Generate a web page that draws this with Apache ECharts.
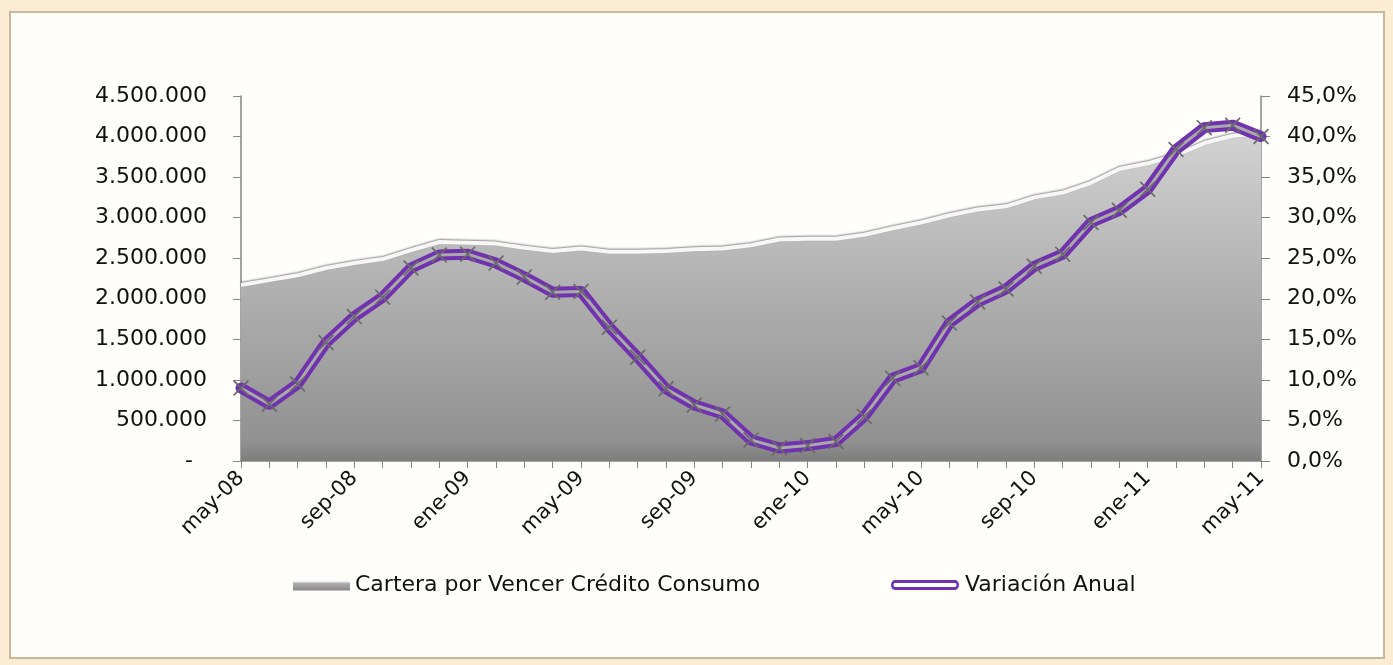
<!DOCTYPE html>
<html>
<head>
<meta charset="utf-8">
<script src="https://cdn.jsdelivr.net/npm/echarts@6/dist/echarts.min.js"></script>
<style>
  html, body { margin: 0; padding: 0; background: #fcecd3; }
  .panel { position: absolute; left: 9px; top: 11px; width: 1376px; height: 648px; background: #fffefb; border: 2px solid #c9b99c; box-sizing: border-box; }
  #chart { position: absolute; left: 0; top: 0; width: 1393px; height: 665px; }
</style>
</head>
<body>
<div class="panel"></div>
<div id="chart"></div>
<script>
const months = [
  'may-08', 'jun-08', 'jul-08', 'ago-08', 'sep-08', 'oct-08', 'nov-08', 'dic-08',
  'ene-09', 'feb-09', 'mar-09', 'abr-09', 'may-09', 'jun-09', 'jul-09', 'ago-09',
  'sep-09', 'oct-09', 'nov-09', 'dic-09', 'ene-10', 'feb-10', 'mar-10', 'abr-10',
  'may-10', 'jun-10', 'jul-10', 'ago-10', 'sep-10', 'oct-10', 'nov-10', 'dic-10',
  'ene-11', 'feb-11', 'mar-11', 'abr-11', 'may-11',
]

// cartera por vencer, pesos
const cartera = [
  2170000, 2230000, 2290000, 2380000, 2440000, 2490000, 2600000, 2700000,
  2690000, 2680000, 2630000, 2590000, 2620000, 2580000, 2580000, 2590000,
  2610000, 2620000, 2660000, 2730000, 2740000, 2740000, 2790000, 2870000,
  2940000, 3030000, 3100000, 3140000, 3250000, 3310000, 3430000, 3600000,
  3670000, 3770000, 3920000, 4010000, 4040000,
]

// variación anual, %
const variacion = [
  9.0, 7.0, 9.5, 14.6, 17.8, 20.2, 23.8, 25.4,
  25.5, 24.4, 22.7, 20.8, 20.9, 16.5, 12.8, 8.9,
  6.9, 5.8, 2.6, 1.6, 1.9, 2.4, 5.5, 10.2,
  11.5, 17.0, 19.6, 21.2, 24.0, 25.5, 29.4, 30.9,
  33.5, 38.4, 41.1, 41.4, 40.0,
]

const serieCartera = 'Cartera por Vencer Crédito Consumo'
const serieVariacion = 'Variación Anual'

const font = 'DejaVu Sans'
const purple = '#7032ae'
const crossIcon = 'path://M0,1.5L1.5,0L10,8.5L18.5,0L20,1.5L11.5,10L20,18.5L18.5,20L10,11.5L1.5,20L0,18.5L8.5,10Z'
const ringIcon = 'path://M4,0H64A4,5 0 0 1 64,10H4A4,5 0 0 1 4,0Z M4,3A1.5,2 0 0 0 4,7H64A1.5,2 0 0 0 64,3Z'

function thousands(v) {
  if (v === 0) return '-  '
  return String(v).replace(/\B(?=(\d{3})+(?!\d))/g, '.')
}

const chart = echarts.init(document.getElementById('chart'))
chart.setOption({
  animation: false,
  backgroundColor: 'transparent',
  textStyle: { fontFamily: font },
  grid: { left: 241, right: 132, top: 96, bottom: 204, containLabel: false },
  legend: [
    {
      left: 293,
      top: 574,
      padding: 0,
      itemWidth: 57,
      itemHeight: 11,
      itemGap: 6,
      textStyle: { fontFamily: font, fontSize: 22, color: '#111' },
      data: [{
        name: serieCartera,
        icon: 'rect',
        itemStyle: {
          color: {
            type: 'linear', x: 0, y: 0, x2: 0, y2: 1,
            colorStops: [
              { offset: 0, color: '#ffffff' },
              { offset: 0.22, color: '#eeeeee' },
              { offset: 0.32, color: '#b0b0b0' },
              { offset: 1, color: '#878787' },
            ],
          },
          borderWidth: 0,
        },
        lineStyle: { width: 0 },
      }],
    },
    {
      left: 891,
      top: 574,
      padding: 0,
      itemWidth: 70,
      itemHeight: 10,
      textStyle: { fontFamily: font, fontSize: 22, color: '#111' },
      data: [{
        name: serieVariacion,
        icon: ringIcon,
        itemStyle: { color: purple, borderWidth: 0 },
        lineStyle: { width: 0 },
      }],
    },
  ],
  xAxis: {
    type: 'category',
    data: months,
    boundaryGap: false,
    axisLine: { lineStyle: { color: '#868686', width: 1.5 } },
    axisTick: { interval: 0, length: 7, lineStyle: { color: '#868686' } },
    axisLabel: {
      interval: 3,
      rotate: 45,
      margin: 14,
      fontFamily: font,
      fontSize: 21,
      color: '#111',
    },
    splitLine: { show: false },
  },
  yAxis: [
    {
      type: 'value',
      min: 0,
      max: 4500000,
      interval: 500000,
      axisLine: { show: true, lineStyle: { color: '#868686', width: 1.5 } },
      axisTick: { show: true, length: 8, lineStyle: { color: '#868686' } },
      axisLabel: { margin: 34, fontFamily: font, fontSize: 22, color: '#111', formatter: thousands },
      splitLine: { show: false },
    },
    {
      type: 'value',
      min: 0,
      max: 45,
      interval: 5,
      position: 'right',
      axisLine: { show: true, lineStyle: { color: '#868686', width: 1.5 } },
      axisTick: { show: true, length: 9, lineStyle: { color: '#868686' } },
      axisLabel: {
        margin: 26,
        fontFamily: font,
        fontSize: 22,
        color: '#111',
        formatter: (v) => v.toFixed(1).replace('.', ',') + '%',
      },
      splitLine: { show: false },
    },
  ],
  series: [
    {
      name: serieCartera,
      type: 'line',
      yAxisIndex: 0,
      data: cartera,
      symbol: 'none',
      z: 1,
      lineStyle: {
        color: '#f7f7f7',
        width: 4,
        shadowColor: 'rgba(0,0,0,0.45)',
        shadowBlur: 2,
        shadowOffsetY: -1,
      },
      areaStyle: {
        opacity: 1,
        color: {
          type: 'linear', x: 0, y: 0, x2: 0, y2: 1,
          colorStops: [
            { offset: 0, color: '#d2d2d2' },
            { offset: 0.45, color: '#b2b2b2' },
            { offset: 0.94, color: '#919191' },
            { offset: 1, color: '#7d7d7d' },
          ],
        },
      },
    },
    {
      name: serieVariacion,
      type: 'line',
      yAxisIndex: 1,
      data: variacion,
      symbol: 'none',
      z: 3,
      lineStyle: { color: purple, width: 11, join: 'round', cap: 'round' },
      itemStyle: { color: purple },
    },
    {
      name: serieVariacion,
      type: 'line',
      yAxisIndex: 1,
      data: variacion,
      symbol: crossIcon,
      symbolSize: 16,
      showAllSymbol: true,
      z: 4,
      lineStyle: { color: '#a9a9a9', width: 3, join: 'round' },
      itemStyle: { color: '#6a6a6a' },
    },
  ],
})
</script>
</body>
</html>
